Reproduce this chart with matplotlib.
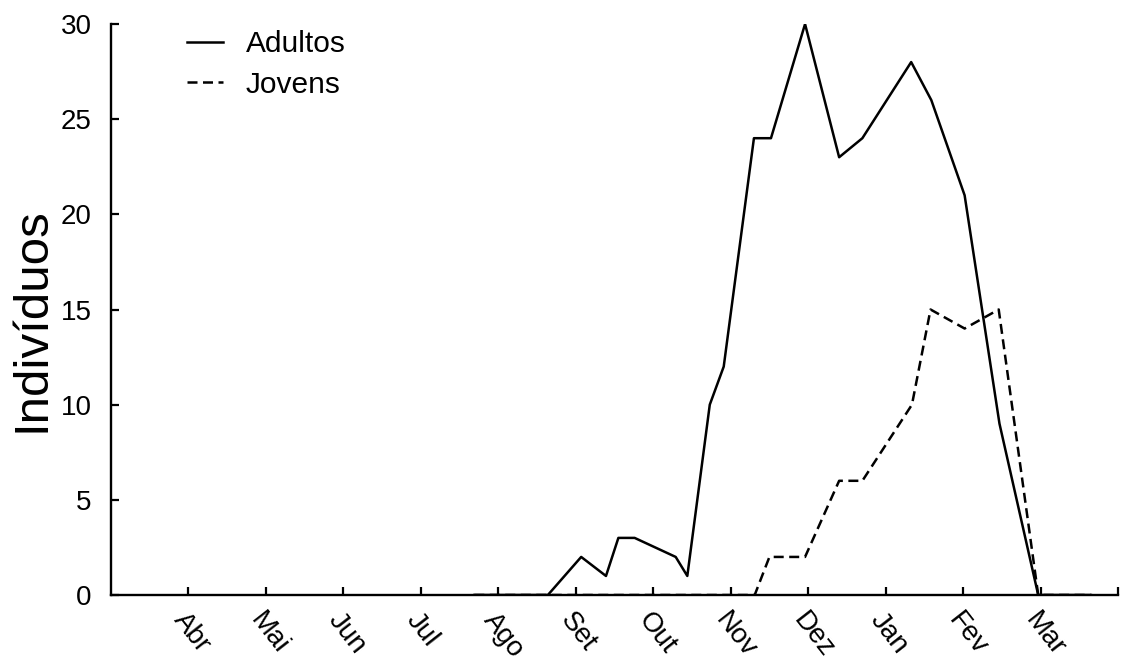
import matplotlib
matplotlib.use("Agg")
import matplotlib.pyplot as plt

# Sampling dates in month units (1 = Abr ... 12 = Mar)
adultos_x = [4.69, 5.64, 6.07, 6.39, 6.55, 6.76, 7.29, 7.44, 7.73, 7.91, 8.30, 8.52,
             8.96, 9.40, 9.70, 10.33, 10.59, 11.02, 11.47, 11.97, 12.65]
adultos_y = [0, 0, 2, 1, 3, 3, 2, 1, 10, 12, 24, 24,
             30, 23, 24, 28, 26, 21, 9, 0, 0]

jovens_x = [4.69, 8.31, 8.50, 8.96, 9.40, 9.70, 10.34, 10.58, 11.02, 11.46, 11.97, 12.65]
jovens_y = [0, 0, 2, 2, 6, 6, 10, 15, 14, 15, 0, 0]

months = ["Abr", "Mai", "Jun", "Jul", "Ago", "Set", "Out", "Nov", "Dez", "Jan", "Fev", "Mar"]
yticks = [0, 5, 10, 15, 20, 25, 30]

plt.rcParams["font.family"] = ["Liberation Sans", "DejaVu Sans"]

fig = plt.figure(figsize=(11.22, 6.71), dpi=100)
ax = fig.add_axes([111 / 1122, 1 - 595 / 671, (1118 - 111) / 1122, (595 - 24) / 671])

ax.plot(adultos_x, adultos_y, color="black", lw=1.8, label="Adultos")
ax.plot(jovens_x, jovens_y, color="black", lw=1.8, ls=(0, (4, 2.2)), label="Jovens")

ax.set_xlim(0, 13)
ax.set_ylim(0, 30)
ax.set_xticks(list(range(1, 14)))
ax.set_xticklabels(months + [""], rotation=-52, ha="left", va="top",
                   rotation_mode="anchor", fontsize=20)
ax.set_yticks(yticks)
ax.set_yticklabels([str(v) for v in yticks], fontsize=20)
ax.tick_params(direction="in", length=6, width=1.6)
ax.tick_params(axis="y", pad=14)
ax.tick_params(axis="x", pad=9)

for side in ("top", "right"):
    ax.spines[side].set_visible(False)
for side in ("left", "bottom"):
    ax.spines[side].set_linewidth(1.7)

ax.set_ylabel("Indivíduos", fontsize=35.5)
ax.yaxis.set_label_coords(-0.056, 0.482)

ax.legend(loc="upper left", bbox_to_anchor=(0.064, 1.01), frameon=False,
          fontsize=21.5, handlelength=1.2, handletextpad=0.75, labelspacing=0.42,
          borderaxespad=0.0)

fig.savefig("out.png", dpi=100)
